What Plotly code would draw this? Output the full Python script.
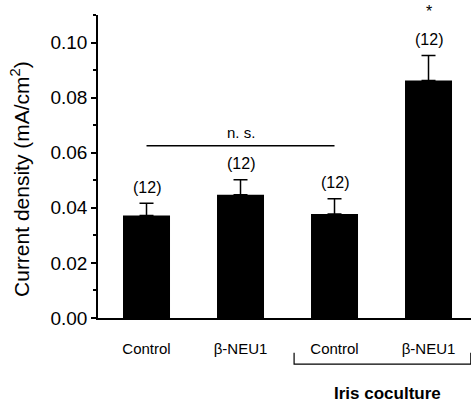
import plotly.graph_objects as go

categories = ["Control", "β-NEU1", "Control", "β-NEU1"]
values = [0.0372, 0.0447, 0.0378, 0.0862]
errors = [0.0045, 0.0055, 0.0055, 0.0091]
n_labels = ["(12)", "(12)", "(12)", "(12)"]
sig_marks = ["", "", "", "*"]
group_label = "Iris coculture"
ns_label = "n. s."
y_title = "Current density (mA/cm<sup>2</sup>)"

xs = list(range(len(categories)))
FONT = "Arial, Liberation Sans, sans-serif"

fig = go.Figure()
fig.add_trace(go.Bar(
    x=xs, y=values, width=0.5,
    marker=dict(color="black", line=dict(width=0)),
    error_y=dict(type="data", symmetric=False, array=errors,
                 arrayminus=[0] * len(values),
                 color="black", thickness=1.5, width=7),
))

annotations = []
for i, (v, e, lab, s) in enumerate(zip(values, errors, n_labels, sig_marks)):
    annotations.append(dict(x=i, y=v + e, xref="x", yref="y", text=lab,
                            showarrow=False, yanchor="middle", yshift=16,
                            font=dict(family=FONT, size=16, color="black")))
    if s:
        annotations.append(dict(x=i, y=v + e, xref="x", yref="y", text=s,
                                showarrow=False, yanchor="middle", yshift=44,
                                font=dict(family=FONT, size=16, color="black")))

ns_y = max(v + e for v, e in zip(values[:3], errors[:3])) + 0.0123
annotations.append(dict(x=1, y=ns_y, xref="x", yref="y", text=ns_label,
                        showarrow=False, yanchor="middle", yshift=13,
                        font=dict(family=FONT, size=15, color="black")))
annotations.append(dict(x=2.56, y=-0.25, xref="x", yref="paper",
                        text="<b>" + group_label + "</b>",
                        showarrow=False, yanchor="middle",
                        font=dict(family=FONT, size=17, color="black")))
annotations.append(dict(x=-0.209, y=0.459, xref="paper", yref="paper",
                        text=y_title, textangle=-90, showarrow=False,
                        xanchor="center", yanchor="middle",
                        font=dict(family=FONT, size=21, color="black")))

shapes = [
    dict(type="line", xref="x", yref="y", x0=0, x1=2, y0=ns_y, y1=ns_y,
         line=dict(color="black", width=1.5)),
    dict(type="path", xref="x", yref="paper",
         path="M 1.57,-0.115 L 1.57,-0.152 L 3.45,-0.152 L 3.45,-0.115",
         line=dict(color="black", width=1.2)),
]

fig.update_layout(
    width=473, height=404,
    margin=dict(l=98, r=2, t=15, b=86),
    plot_bgcolor="white", paper_bgcolor="white",
    showlegend=False,
    annotations=annotations, shapes=shapes,
    font=dict(family=FONT, color="black"),
    xaxis=dict(range=[-0.516, 3.452], tickvals=xs, ticktext=categories,
               showline=True, linecolor="black", linewidth=1.5,
               ticks="", ticklabelstandoff=16, showgrid=False, zeroline=False,
               tickfont=dict(family=FONT, size=15, color="black")),
    yaxis=dict(range=[0, 0.11], dtick=0.02, tickformat=".2f",
               showline=True, linecolor="black", linewidth=1.5,
               ticks="outside", ticklen=5, tickwidth=1.5, tickcolor="black",
               minor=dict(ticks="outside", ticklen=3, dtick=0.01, tickcolor="black"),
               showgrid=False, zeroline=False,
               tickfont=dict(family=FONT, size=19, color="black")),
)

fig.write_html("out.html", config={"displayModeBar": False},
               post_script="document.body.style.margin='0';")
